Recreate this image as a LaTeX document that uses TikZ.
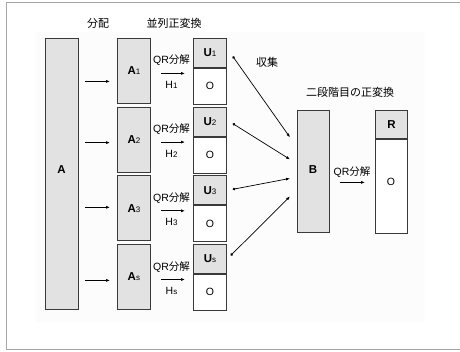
\documentclass[tikz,border=0pt]{standalone}
\usepackage{fontspec}
\setmainfont{Liberation Sans}
\newfontfamily\jp{Noto Sans CJK JP}
\usetikzlibrary{arrows.meta}
\definecolor{boxgray}{HTML}{E2E2E2}
\definecolor{edge}{HTML}{3A3A3A}
\newcommand{\lab}[2]{\textbf{#1}{\fontsize{8}{9}\selectfont #2}}
\begin{document}
\begin{tikzpicture}[x=1pt,y=-1pt,
  box/.style={draw=edge, line width=0.8pt, fill=boxgray, inner sep=0pt, minimum width=33pt},
  obox/.style={box, fill=white},
  txt/.style={inner sep=0pt, font=\fontsize{10.5}{12}\selectfont},
  jtxt/.style={inner sep=0pt, font=\fontsize{11}{12}\jp},
  bl/.style={inner sep=0pt, font=\fontsize{11.5}{12}\selectfont},
  arr/.style={draw=black, line width=0.7pt, -{Latex[length=4pt,width=3pt]}},
  gath/.style={draw=black, line width=0.7pt, {Circle[length=2.6pt]}-{Latex[length=4pt,width=3pt]}}
]
\useasboundingbox (0,0) rectangle (460,351);
\fill[gray!2] (35,32) rectangle (425,322);
\draw[gray!70, line width=0.7pt] (460,2) -- (6,2) -- (6,349) -- (460,349);

% headers
\node[jtxt] (hd1) at (98,23) {分配};
\node[jtxt] (hd2) at (174,23) {並列正変換};
\node[jtxt] (hd3) at (267,62) {収集};
\node[jtxt] (hd4) at (350,92) {二段階目の正変換};

% big A
\node[box, minimum height=271pt, anchor=north west] (A) at (45,38) {};
\node[bl] (Alab) at (61.5,170) {\textbf{A}};

% B and R
\node[box, minimum width=32pt, minimum height=122pt, anchor=north west] (B) at (297,110) {};
\node[bl] (Blab) at (313,170) {\textbf{B}};
\node[box, minimum width=32pt, minimum height=28pt, anchor=north west, font=\fontsize{11.5}{12}\selectfont] (R) at (375,110) {\textbf{R}};
\node[obox, minimum width=32pt, minimum height=94pt, anchor=north] (RO) at (R.south) {};
\node[txt] (ROlab) at (391,182) {O};
\node[txt] (qB) at (352,172) {QR{\jp 分解}};
\draw[arr] ([xshift=10pt,yshift=-11pt]B.east) -- ([xshift=-10pt,yshift=-11pt]B.east -| R.west);

% rows
\foreach \i/\t/\s/\da/\dg/\ds/\dx in {1/38/1/10.5/-34/3.5/6,2/106.7/2/3/-12/2/6,3/175.4/3/-1/7/-1/6,4/244.1/s/3.4/25/-3.6/4}{
  \node[box, minimum height=65pt, anchor=north west, font=\fontsize{11.5}{12}\selectfont] (a\i) at (117,\t) {\lab{A}{\s}};
  \node[box, minimum height=29pt, anchor=north west, font=\fontsize{11.5}{12}\selectfont] (u\i) at (193,\t) {\lab{U}{\s}};
  \node[obox, minimum height=36pt, anchor=north, font=\fontsize{10.5}{12}\selectfont] (o\i) at (u\i.south) {O};
  \node[txt] (q\i) at (171.5,{\t+22.5}) {QR{\jp 分解}};
  \node[txt] (h\i) at (171.5,{\t+47}) {H{\fontsize{8}{9}\selectfont \s}};
  \draw[arr] ([xshift=10pt,yshift=-2.5pt]a\i.east) -- ([xshift=-8pt,yshift=-2.5pt]a\i.east -| u\i.west);
  \draw[arr] ([xshift=-32pt,yshift=-\da pt]a\i.west) -- ([xshift=-7pt,yshift=-\da pt]a\i.west);
  \draw[gath] ([xshift=\dx pt,yshift=-\ds pt]u\i.east) -- ([xshift=-7pt,yshift=-\dg pt]B.west);
}
\end{tikzpicture}
\end{document}
